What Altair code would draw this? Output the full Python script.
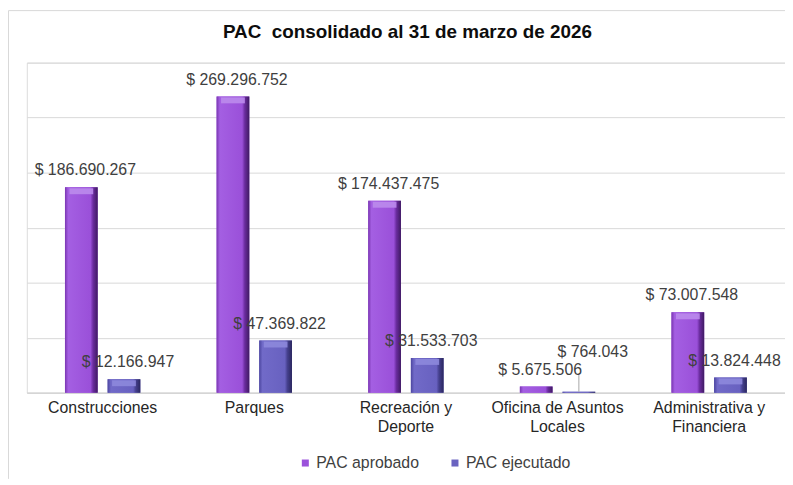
import altair as alt
import pandas as pd

# ---- data -------------------------------------------------------------
categories = [
    "Construcciones",
    "Parques",
    "Recreación y\nDeporte",
    "Oficina de Asuntos\nLocales",
    "Administrativa y\nFinanciera",
]
series = ["PAC aprobado", "PAC ejecutado"]
aprobado = [186690267, 269296752, 174437475, 5675506, 73007548]
ejecutado = [12166947, 47369822, 31533703, 764043, 13824448]
y_ticks = [0, 50000000, 100000000, 150000000, 200000000, 250000000, 300000000]
title_text = "PAC\u00a0 consolidado al 31 de marzo de 2026"

rows = []
for c, a, e in zip(categories, aprobado, ejecutado):
    rows.append({"cat": c, "serie": series[0], "value": a})
    rows.append({"cat": c, "serie": series[1], "value": e})
df = pd.DataFrame(rows)
df["label"] = df["value"].map(lambda v: "$ " + f"{v:,}".replace(",", "."))

# ---- style ------------------------------------------------------------
FONT = "Liberation Sans"
COL_A = "#9b52db"
COL_E = "#6a63c0"
SMALL = 2000000  # values below this get a raised callout label

purple_grad = alt.LinearGradient(
    gradient="linear", x1=0, x2=1, y1=0, y2=0,
    stops=[
        alt.GradientStop(offset=0, color="#7a36b2"),
        alt.GradientStop(offset=0.1, color="#a45fe2"),
        alt.GradientStop(offset=0.78, color="#9a50d9"),
        alt.GradientStop(offset=0.86, color="#6a2c9e"),
        alt.GradientStop(offset=1, color="#3f1a62"),
    ],
)
blue_grad = alt.LinearGradient(
    gradient="linear", x1=0, x2=1, y1=0, y2=0,
    stops=[
        alt.GradientStop(offset=0, color="#4c46a0"),
        alt.GradientStop(offset=0.1, color="#716ac8"),
        alt.GradientStop(offset=0.78, color="#6861c0"),
        alt.GradientStop(offset=0.86, color="#45408e"),
        alt.GradientStop(offset=1, color="#2a275e"),
    ],
)

x_enc = alt.X(
    "cat:N",
    sort=categories,
    scale=alt.Scale(paddingInner=0.503, paddingOuter=0.2516),
    axis=alt.Axis(
        title=None, labelAngle=0, ticks=False, domain=True,
        domainColor="#d0d0d0", labelFont=FONT, labelFontSize=16,
        labelColor="#262626", labelLineHeight=19, labelPadding=7,
        labelExpr="split(datum.label, '\\n')",
    ),
)
xoff = alt.XOffset("serie:N", sort=series,
                   scale=alt.Scale(paddingInner=0.233, paddingOuter=0))
y_enc = alt.Y(
    "value:Q",
    scale=alt.Scale(domain=[0, 300000000], nice=False, zero=True),
    axis=alt.Axis(values=y_ticks, labels=False, ticks=False, domain=False,
                  title=None, grid=True, gridColor="#d9d9d9"),
)

base = alt.Chart(df).mark_bar().encode(
    x=x_enc, xOffset=xoff, y=y_enc,
    color=alt.Color(
        "serie:N", sort=series,
        scale=alt.Scale(domain=series, range=[COL_A, COL_E]),
        legend=alt.Legend(
            orient="none", legendX=273, legendY=396, direction="horizontal",
            title=None, symbolType="square", symbolSize=50,
            labelFont=FONT, labelFontSize=16, labelColor="#404040",
            columnPadding=28, padding=0, symbolStrokeWidth=0, labelOffset=3,
        ),
    ),
)

over_a = alt.Chart(df).transform_filter(alt.datum.serie == series[0]).mark_bar(
    fill=purple_grad).encode(x=x_enc, xOffset=xoff, y=y_enc)
over_e = alt.Chart(df).transform_filter(alt.datum.serie == series[1]).mark_bar(
    fill=blue_grad).encode(x=x_enc, xOffset=xoff, y=y_enc)

bevel = alt.Chart(df).transform_filter("datum.value > 10000000").mark_tick(
    thickness=6, size=24, yOffset=4, opacity=0.9).encode(
    x=x_enc, xOffset=xoff, y=y_enc,
    color=alt.condition(alt.datum.serie == series[0],
                        alt.value("#bb8bec"), alt.value("#8d88dc")),
)

labels = alt.Chart(df).transform_filter(f"datum.value >= {SMALL}").mark_text(
    dx=4, dy=-12, baseline="alphabetic", font=FONT, fontSize=16,
    color="#404040").encode(x=x_enc, xOffset=xoff, y=y_enc, text="label:N")

callout = alt.Chart(df).transform_filter(f"datum.value < {SMALL}").transform_calculate(
    ly="22000000").mark_text(
    dx=14, dy=-12, baseline="alphabetic", font=FONT, fontSize=16,
    color="#404040").encode(x=x_enc, xOffset=xoff, y="ly:Q", text="label:N")

leader = alt.Chart(df).transform_filter(f"datum.value < {SMALL}").transform_calculate(
    ly2="16000000").mark_rule(color="#a6a6a6").encode(
    x=x_enc, xOffset=xoff, y="value:Q", y2="ly2:Q")

one = pd.DataFrame({"k": [0]})
frame = alt.Chart(one).mark_rule(color="#d9d9d9", strokeWidth=1).encode(
    x=alt.value(-18.5), y=alt.value(-52.5), y2=alt.value(420))
frame_top = alt.Chart(one).mark_rule(color="#d9d9d9", strokeWidth=1).encode(
    x=alt.value(-18.5), x2=alt.value(770), y=alt.value(-52.5))

title = alt.Chart(one).mark_text(
    text=title_text, font=FONT, fontSize=19, fontWeight="bold",
    color="#0d0d0d", align="center", baseline="alphabetic").encode(
    x=alt.value(384), y=alt.value(-25))

chart = alt.layer(frame, frame_top, base, over_a, over_e, bevel, leader, labels,
                  callout, title).properties(
    width=765, height=333,
    autosize=alt.AutoSizeParams(type="none"),
    padding={"left": 19, "top": 53, "right": 0, "bottom": 85},
).configure_view(strokeWidth=0).configure(background="white")

chart.save("out.html", embed_options={"renderer": "svg", "actions": False})
